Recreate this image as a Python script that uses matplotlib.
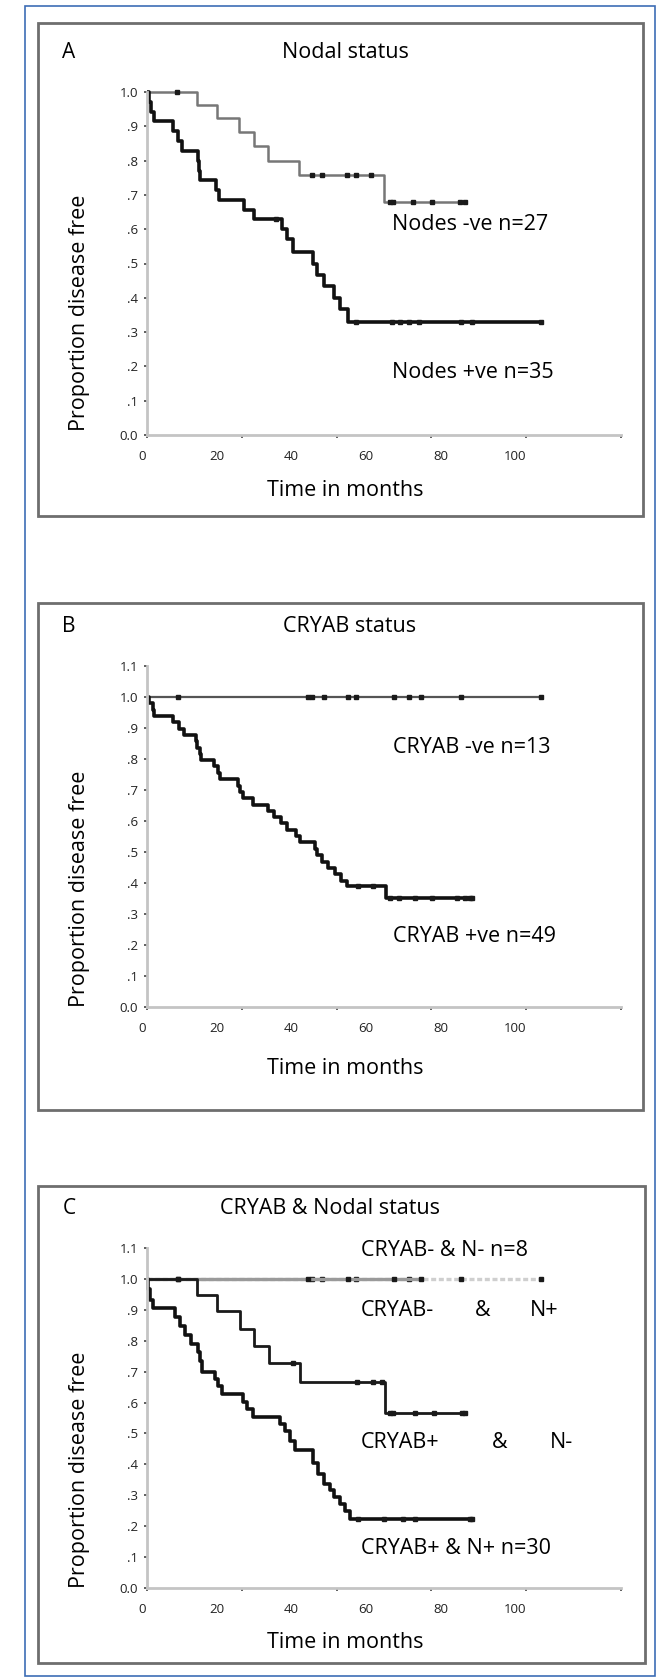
import numpy as np
import matplotlib
matplotlib.use("Agg")
import matplotlib.pyplot as plt
import matplotlib.transforms as mtransforms
from matplotlib.patches import Rectangle

plt.rcParams['font.family'] = ['Open Sans', 'DejaVu Sans']

W, H = 658, 1678

# ---- data (months, proportion disease free) ----
# Panel A: nodal status
A_neg_t = [0, 13.3, 18.7, 24.7, 28.7, 32.5, 40.8, 63.5]
A_neg_s = [1.0, 0.962, 0.923, 0.883, 0.842, 0.800, 0.757, 0.680]
A_neg_end = 85.3
A_neg_cens = [8.1, 44.3, 47.0, 53.5, 56.0, 60.0, 65.1, 66.0, 71.4, 76.3, 83.9, 85.3]

A_pos_t = [0, 0.5, 1.0, 2.0, 7.0, 8.4, 9.5, 13.6, 14.0, 14.3, 18.4, 19.4, 26.0, 28.7,
           36.1, 37.4, 39.2, 44.4, 45.5, 47.5, 50.0, 51.8, 53.8]
A_pos_s = [1.0, 0.971, 0.943, 0.914, 0.886, 0.857, 0.829, 0.800, 0.771, 0.743, 0.714, 0.686,
           0.657, 0.629, 0.600, 0.571, 0.533, 0.500, 0.467, 0.433, 0.400, 0.367, 0.330]
A_pos_end = 106.0
A_pos_cens = [34.5, 56.0, 65.6, 67.9, 70.2, 73.0, 84.2, 87.0, 105.6]

# Panel B: CRYAB status
B_neg_t = [0]
B_neg_s = [1.0]
B_neg_end = 105.6
B_neg_cens = [8.2, 43.1, 44.3, 47.3, 53.8, 56.1, 66.2, 70.2, 73.5, 84.0, 105.6]

B_pos_t = [0, 0.5, 1.5, 2.0, 7.0, 8.5, 10.0, 13.0, 13.5, 14.2, 14.5, 18.0, 19.0, 19.5,
           24.3, 25.0, 25.6, 28.4, 32.5, 34.0, 36.0, 37.5, 40.0, 41.0, 45.0, 45.5, 47.0,
           48.5, 50.5, 52.0, 53.5, 64.0]
B_pos_s = [1.0, 0.980, 0.959, 0.939, 0.918, 0.898, 0.878, 0.857, 0.837, 0.816, 0.796, 0.776,
           0.755, 0.735, 0.714, 0.694, 0.673, 0.653, 0.633, 0.612, 0.592, 0.571, 0.551,
           0.531, 0.510, 0.490, 0.469, 0.449, 0.429, 0.408, 0.390, 0.352]
B_pos_end = 87.0
B_pos_cens = [56.6, 60.6, 65.0, 67.5, 71.8, 76.3, 83.0, 85.3, 86.5, 87.0]

# Panel C: CRYAB & nodal status
C_nn_t = [0]
C_nn_s = [1.0]
C_nn_end = 105.6
C_nn_cens = [8.2, 44.3, 47.0, 56.1, 70.2, 84.0, 105.6]

C_np_t = [0]
C_np_s = [1.0]
C_np_end = 73.5
C_np_cens = [43.1, 53.8, 66.2, 73.5]

C_pn_t = [0, 13.5, 18.8, 24.9, 28.8, 32.6, 41.1, 63.9]
C_pn_s = [1.0, 0.947, 0.895, 0.838, 0.782, 0.727, 0.665, 0.567]
C_pn_end = 85.3
C_pn_cens = [8.4, 39.2, 56.2, 60.5, 62.9, 65.1, 66.0, 71.8, 76.8, 84.4, 85.3]

C_pp_t = [0, 0.4, 0.8, 1.7, 7.5, 8.9, 10.3, 11.7, 13.7, 14.2, 14.7, 18.2, 19.1, 20.0,
          25.8, 26.7, 28.5, 35.7, 37.0, 38.3, 39.7, 44.6, 45.9, 47.3, 49.1, 50.0, 51.7,
          53.1, 54.4]
C_pp_s = [1.0, 0.967, 0.933, 0.905, 0.876, 0.848, 0.819, 0.790, 0.762, 0.733, 0.700, 0.676,
          0.652, 0.628, 0.603, 0.579, 0.554, 0.531, 0.508, 0.477, 0.446, 0.405, 0.370,
          0.338, 0.316, 0.294, 0.272, 0.250, 0.223]
C_pp_end = 87.0
C_pp_cens = [56.6, 63.4, 68.5, 71.8, 86.5, 87.0]

x_labels = [0, 20, 40, 60, 80, 100]
x_marks = [0, 25.4, 50.8, 76.2, 101.6, 127]
y_ticks_A = [0, .1, .2, .3, .4, .5, .6, .7, .8, .9, 1.0]
y_labels_A = ['0.0', '.1', '.2', '.3', '.4', '.5', '.6', '.7', '.8', '.9', '1.0']
y_ticks_BC = y_ticks_A + [1.1]
y_labels_BC = y_labels_A + ['1.1']


def fx(x):
    return x / W


def fy(y):
    return 1 - y / H


fig = plt.figure(figsize=(W / 100, H / 100), dpi=100)

# outer blue frame
fig.add_artist(Rectangle((fx(25), fy(1676)), fx(655) - fx(25), fy(6) - fy(1676),
                         transform=fig.transFigure, fill=False, ec='#3d6db5', lw=1.2))


def km(ax, t, s, end, cens, color, lw, ls='-', mcolor='#1a1a1a'):
    tt = list(t) + [end]
    ss = list(s) + [s[-1]]
    ax.step(tt, ss, where='post', color=color, lw=lw, ls=ls, clip_on=False,
            solid_capstyle='butt')
    idx = np.searchsorted(np.array(t), np.array(cens), side='right') - 1
    cy = np.array(s)[idx]
    ax.plot(cens, cy, ls='none', marker='s', ms=2.6, color=mcolor, clip_on=False)


def panel(frame, ax_box, letter, title, title_x, ylabel_y, xtitle_y, ytop, yt, yl):
    x0, y0, x1, y1 = frame
    fig.add_artist(Rectangle((fx(x0), fy(y1)), fx(x1) - fx(x0), fy(y0) - fy(y1),
                             transform=fig.transFigure, fill=False, ec='#6e6e6e', lw=2.0))
    left, top, right, bottom = ax_box
    ax = fig.add_axes([fx(left), fy(bottom), fx(right) - fx(left), fy(top) - fy(bottom)])
    ax.set_xlim(0, 127)
    ax.set_ylim(0, ytop)
    for sp in ['top', 'right']:
        ax.spines[sp].set_visible(False)
    for sp in ['left', 'bottom']:
        ax.spines[sp].set_color('#c4c4c4')
        ax.spines[sp].set_linewidth(2.0)
    ax.set_yticks(yt)
    ax.set_yticklabels(yl, fontsize=9.5, color='#222222')
    ax.tick_params(axis='y', length=2, width=1.2, color='#444444', pad=4.5)
    ax.xaxis.remove_overlapping_locs = False
    ax.set_xticks(x_marks)
    ax.set_xticklabels([])
    ax.tick_params(axis='x', which='major', length=2, width=1.2, color='#444444')
    ax.set_xticks(x_labels, minor=True)
    ax.set_xticklabels([str(v) for v in x_labels], minor=True, fontsize=9.5, color='#222222')
    ax.tick_params(axis='x', which='minor', length=0, pad=11)
    off = mtransforms.ScaledTranslation(-5 / 100, 0, fig.dpi_scale_trans)
    for lbl in ax.get_xticklabels(minor=True):
        lbl.set_transform(lbl.get_transform() + off)
    ly = y0 + 30 if letter == 'A' else y0 + 23
    fig.text(fx(69), fy(ly), letter, fontsize=15, ha='center', va='center')
    fig.text(fx(title_x), fy(ly), title, fontsize=15.5, ha='center', va='center')
    fig.text(fx(79), fy(ylabel_y), 'Proportion disease free', fontsize=15.5,
             rotation=90, ha='center', va='center')
    fig.text(fx(345), fy(xtitle_y), 'Time in months', fontsize=15.5,
             ha='center', va='center')
    return ax


# ---- Panel A ----
axA = panel((38, 23, 643, 516), (147, 92, 621, 435), 'A', 'Nodal status', 345, 313, 490,
            1.0, y_ticks_A, y_labels_A)
km(axA, A_neg_t, A_neg_s, A_neg_end, A_neg_cens, '#777777', 1.8)
km(axA, A_pos_t, A_pos_s, A_pos_end, A_pos_cens, '#111111', 2.6)
fig.text(fx(392), fy(225), 'Nodes -ve n=27', fontsize=15.5, va='center')
fig.text(fx(392), fy(372), 'Nodes +ve n=35', fontsize=15.5, va='center')

# ---- Panel B ----
axB = panel((38, 603, 643, 1110), (147, 666, 621, 1007), 'B', 'CRYAB status', 350, 889, 1068,
            1.1, y_ticks_BC, y_labels_BC)
km(axB, B_neg_t, B_neg_s, B_neg_end, B_neg_cens, '#555555', 1.6)
km(axB, B_pos_t, B_pos_s, B_pos_end, B_pos_cens, '#111111', 2.6)
fig.text(fx(393), fy(747), 'CRYAB -ve n=13', fontsize=15.5, va='center')
fig.text(fx(393), fy(937), 'CRYAB +ve n=49', fontsize=15.5, va='center')

# ---- Panel C ----
axC = panel((38, 1186, 645, 1663), (147, 1248, 621, 1588), 'C', 'CRYAB & Nodal status', 330,
            1470, 1643, 1.1, y_ticks_BC, y_labels_BC)
km(axC, C_nn_t, C_nn_s, C_nn_end, C_nn_cens, '#cfcfcf', 2.4, ls=(0, (1.5, 0.8)))
km(axC, C_np_t, C_np_s, C_np_end, C_np_cens, '#9a9a9a', 2.4)
km(axC, C_pn_t, C_pn_s, C_pn_end, C_pn_cens, '#1a1a1a', 2.0)
km(axC, C_pp_t, C_pp_s, C_pp_end, C_pp_cens, '#111111', 2.6)
fig.text(fx(361), fy(1250), 'CRYAB- & N- n=8', fontsize=15.5, va='center')
fig.text(fx(361), fy(1310), 'CRYAB-', fontsize=15.5, va='center')
fig.text(fx(475), fy(1310), '&', fontsize=15.5, va='center')
fig.text(fx(530), fy(1310), 'N+', fontsize=15.5, va='center')
fig.text(fx(361), fy(1442), 'CRYAB+', fontsize=15.5, va='center')
fig.text(fx(492), fy(1442), '&', fontsize=15.5, va='center')
fig.text(fx(550), fy(1442), 'N-', fontsize=15.5, va='center')
fig.text(fx(361), fy(1548), 'CRYAB+ & N+ n=30', fontsize=15.5, va='center')

fig.savefig('out.png', dpi=100)
